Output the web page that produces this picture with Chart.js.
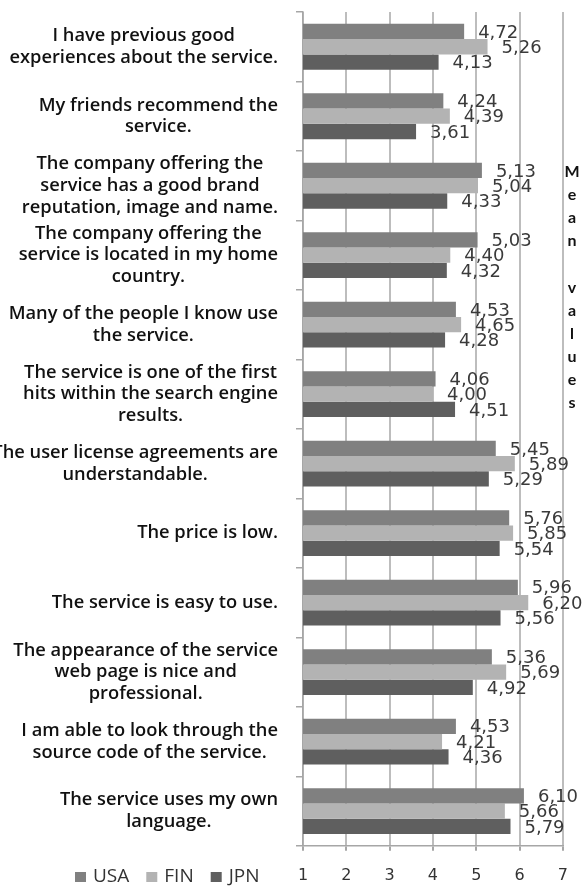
<!DOCTYPE html>
<html>
<head>
  <meta charset="utf-8" />
  <script src="https://cdn.jsdelivr.net/npm/chart.js@4.4.1/dist/chart.umd.min.js"></script>
  <style>
    html,body{margin:0;padding:0;background:#fff;}
    #wrap{width:583px;height:887px;position:relative;}
  </style>
</head>
<body>
<div id="wrap"><canvas id="chart"></canvas></div>

<script>
/* ---------- Data ---------- */
const categories = [
  ['I have previous good', 'experiences about the service.'],
  ['My friends recommend the', 'service.'],
  ['The company offering the', 'service has a good brand', 'reputation, image and name.'],
  ['The company offering the', 'service is located in my home', 'country.'],
  ['Many of the people I know use', 'the service.'],
  ['The service is one of the first', 'hits within the search engine', 'results.'],
  ['The user license agreements are', 'understandable.'],
  ['The price is low.'],
  ['The service is easy to use.'],
  ['The appearance of the service', 'web page is nice and', 'professional.'],
  ['I am able to look through the', 'source code of the service.'],
  ['The service uses my own', 'language.']
];
const usa = [4.72, 4.24, 5.13, 5.03, 4.53, 4.06, 5.45, 5.76, 5.96, 5.36, 4.53, 6.10];
const fin = [5.26, 4.39, 5.04, 4.40, 4.65, 4.00, 5.89, 5.85, 6.20, 5.69, 4.21, 5.66];
const jpn = [4.13, 3.61, 4.33, 4.32, 4.28, 4.51, 5.29, 5.54, 5.56, 4.92, 4.36, 5.79];
const seriesNames = ['USA', 'FIN', 'JPN'];
const seriesColors = ['#808080', '#b3b3b3', '#5f5f5f'];
const xTicks = [1, 2, 3, 4, 5, 6, 7];
const axisTitle = 'Mean values';

/* ---------- Plugins ---------- */
// category text: centred block, right edge ~25px left of the axis
const catLabels = {
  id: 'catLabels',
  afterDraw(chart){
    const ctx = chart.ctx, y = chart.scales.y;
    const right = chart.chartArea.left - 25, lh = 21.7;
    ctx.save();
    ctx.font = '600 18.3px "Open Sans"';
    ctx.fillStyle = '#111';
    ctx.textAlign = 'center';
    ctx.textBaseline = 'middle';
    categories.forEach((lines, i) => {
      const w = Math.max(...lines.map(l => ctx.measureText(l).width));
      const cx = right - w / 2;
      const cy = y.getPixelForValue(i);
      lines.forEach((l, k) => ctx.fillText(l, cx, cy + (k - (lines.length - 1) / 2) * lh));
    });
    ctx.restore();
  }
};

const valueLabels = {
  id: 'valueLabels',
  afterDatasetsDraw(chart){
    const ctx = chart.ctx;
    ctx.save();
    ctx.font = '18px "DejaVu Sans"';
    ctx.fillStyle = '#3a3a3a';
    ctx.textAlign = 'left';
    ctx.textBaseline = 'middle';
    chart.data.datasets.forEach((ds, d) => {
      chart.getDatasetMeta(d).data.forEach((bar, i) => {
        ctx.fillText(ds.data[i].toFixed(2).replace('.', ','), bar.x + 14, bar.y + 1.5);
      });
    });
    ctx.restore();
  }
};

const bottomLegend = {
  id: 'bottomLegend',
  afterDraw(chart){
    const ctx = chart.ctx;
    let x = 75; const cy = 877;
    ctx.save();
    ctx.font = '19px "Open Sans"';
    ctx.textBaseline = 'middle';
    ctx.textAlign = 'left';
    chart.data.datasets.forEach(ds => {
      ctx.fillStyle = ds.backgroundColor;
      ctx.fillRect(x, cy - 5, 11, 10);
      ctx.fillStyle = '#333';
      ctx.fillText(ds.label, x + 18, cy);
      x += 18 + ctx.measureText(ds.label).width + 17;
    });
    ctx.restore();
  }
};

const sideTitle = {
  id: 'sideTitle',
  afterDraw(chart){
    const ctx = chart.ctx;
    ctx.save();
    ctx.font = 'bold 16px Lato';
    ctx.fillStyle = '#111';
    ctx.textAlign = 'center';
    ctx.textBaseline = 'middle';
    axisTitle.split('').forEach((ch, k) => ctx.fillText(ch, 572, 172 + k * 23.1));
    ctx.restore();
  }
};

/* ---------- Chart ---------- */
new Chart(document.getElementById('chart'), {
  type: 'bar',
  data: {
    labels: categories,
    datasets: [
      { label: seriesNames[0], data: usa, backgroundColor: seriesColors[0] },
      { label: seriesNames[1], data: fin, backgroundColor: seriesColors[1] },
      { label: seriesNames[2], data: jpn, backgroundColor: seriesColors[2] }
    ]
  },
  options: {
    indexAxis: 'y',
    responsive: true,
    maintainAspectRatio: false,
    animation: false,
    barPercentage: 1.0,
    categoryPercentage: 0.66,
    layout: { padding: { left: 296, right: 20, top: 12, bottom: -13 } },
    plugins: { legend: { display: false }, tooltip: { enabled: false } },
    scales: {
      x: {
        min: 1, max: 7,
        afterBuildTicks: s => { s.ticks = xTicks.map(v => ({ value: v })); },
        ticks: { color: '#333', font: { family: 'DejaVu Sans', size: 16 }, padding: 15 },
        grid: { color: '#bdbdbd', lineWidth: 2, tickLength: 5, tickColor: '#a6a6a6' },
        border: { color: '#a6a6a6', width: 1.5 }
      },
      y: {
        ticks: { display: false },
        grid: { drawOnChartArea: false, tickLength: 7, color: '#a6a6a6', lineWidth: 1.5 },
        border: { color: '#a6a6a6', width: 1.5 }
      }
    }
  },
  plugins: [catLabels, valueLabels, bottomLegend, sideTitle]
});
</script>
</body>
</html>
